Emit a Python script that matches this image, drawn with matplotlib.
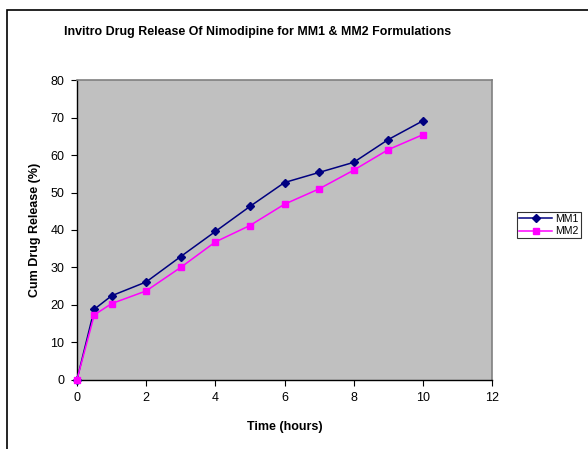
import matplotlib
matplotlib.use("Agg")
import matplotlib.pyplot as plt
from matplotlib.patches import Rectangle

TIME = [0, 0.5, 1, 2, 3, 4, 5, 6, 7, 8, 9, 10]
MM1 = [0, 18.8, 22.4, 26.1, 32.9, 39.6, 46.3, 52.7, 55.4, 58.1, 64.2, 69.2]
MM2 = [0, 17.3, 20.3, 23.7, 30.0, 36.8, 41.2, 46.9, 51.0, 56.0, 61.5, 65.5]

X_TICKS = [0, 2, 4, 6, 8, 10, 12]
Y_TICKS = [0, 10, 20, 30, 40, 50, 60, 70, 80]

plt.rcParams.update({
    "font.family": ["Liberation Sans", "DejaVu Sans"],
    "font.size": 9,
})

fig = plt.figure(figsize=(5.88, 4.49), dpi=100)
ax = fig.add_axes([77 / 588, 1 - 379.5 / 449, (492 - 77) / 588, (379.5 - 80.5) / 449])

# outer chart border (runs off the right and bottom edges)
fig.patches.append(Rectangle((7 / 588, -0.05), 1.2, 1 - 10 / 449 + 0.05,
                             transform=fig.transFigure, fill=False,
                             edgecolor="black", linewidth=1.2))

ax.set_facecolor("#C0C0C0")
ax.plot(TIME, MM1, color="#000080", marker="D", markersize=4.5, linewidth=1.1,
        label="MM1", clip_on=False, zorder=3)
ax.plot(TIME, MM2, color="#FF00FF", marker="s", markersize=5, linewidth=1.1,
        label="MM2", clip_on=False, zorder=3)

ax.set_xlim(0, 12)
ax.set_ylim(0, 80)
ax.set_xticks(X_TICKS)
ax.set_yticks(Y_TICKS)
ax.tick_params(direction="out", length=4, width=0.8, labelsize=9, pad=5)

for side in ("top", "right"):
    ax.spines[side].set_color("#808080")
    ax.spines[side].set_linewidth(1.2)
for side in ("left", "bottom"):
    ax.spines[side].set_color("black")
    ax.spines[side].set_linewidth(1.0)

ax.set_xlabel("Time (hours)", fontsize=9, fontweight="bold", labelpad=12)
ax.set_ylabel("Cum Drug Release (%)", fontsize=9, fontweight="bold", labelpad=7)

fig.text(258 / 588, 1 - 32 / 449,
         "Invitro Drug Release Of Nimodipine for MM1 & MM2 Formulations",
         ha="center", va="center", fontsize=8.9, fontweight="bold")

leg = fig.legend(loc="upper left", bbox_to_anchor=(517 / 588, 1 - 212 / 449),
                 frameon=True, fancybox=False, fontsize=7.5, handlelength=3.2,
                 borderpad=0.2, labelspacing=0.2, handletextpad=0.3,
                 borderaxespad=0)
leg.get_frame().set_edgecolor("black")
leg.get_frame().set_linewidth(0.8)

fig.savefig("out.png", dpi=100)
